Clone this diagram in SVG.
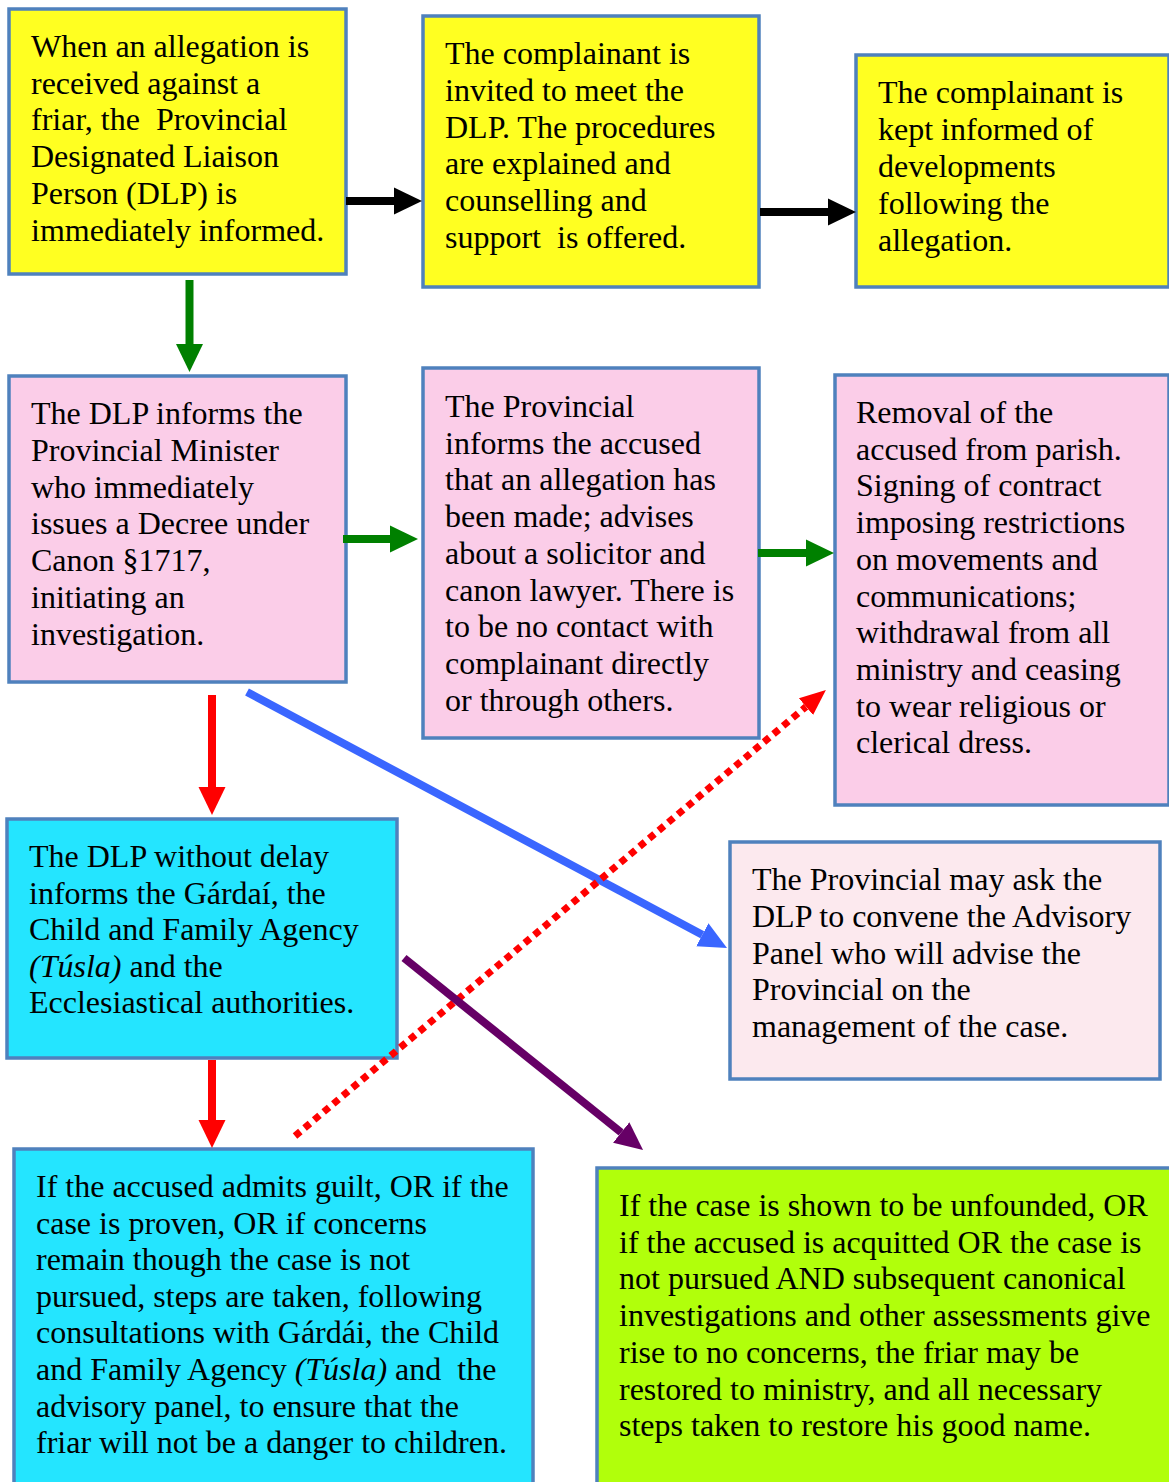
<svg xmlns="http://www.w3.org/2000/svg" width="1169" height="1482" viewBox="0 0 1169 1482">
<style>
.box{stroke:#4f81bd;stroke-width:3.5}
.y{fill:#ffff21}.p{fill:#fbcde8}.c{fill:#24e5ff}.lp{fill:#fce9ee}.g{fill:#b1ff0b}
text{font-family:"Liberation Serif","Times New Roman",serif;font-size:32px;fill:#000;white-space:pre}
.it{font-style:italic}
.sh{fill:none;stroke-width:8}
</style>
<defs>
<marker id="hk" markerUnits="userSpaceOnUse" markerWidth="28" markerHeight="28" viewBox="0 -14 28 28" refX="0" refY="0" orient="auto"><path d="M0,-13.5 L28,0 L0,13.5 z" fill="#000"/></marker>
<marker id="hg" markerUnits="userSpaceOnUse" markerWidth="28" markerHeight="28" viewBox="0 -14 28 28" refX="0" refY="0" orient="auto"><path d="M0,-13.5 L28,0 L0,13.5 z" fill="#008000"/></marker>
<marker id="hr" markerUnits="userSpaceOnUse" markerWidth="28" markerHeight="28" viewBox="0 -14 28 28" refX="0" refY="0" orient="auto"><path d="M0,-13.5 L28,0 L0,13.5 z" fill="#ff0000"/></marker>
<marker id="hb" markerUnits="userSpaceOnUse" markerWidth="28" markerHeight="28" viewBox="0 -14 28 28" refX="0" refY="0" orient="auto"><path d="M0,-13 L28,0 L0,13 z" fill="#3a66ff"/></marker>
<marker id="hp" markerUnits="userSpaceOnUse" markerWidth="28" markerHeight="28" viewBox="0 -14 28 28" refX="0" refY="0" orient="auto"><path d="M0,-13 L28,0 L0,13 z" fill="#660066"/></marker>
<marker id="hd" markerUnits="userSpaceOnUse" markerWidth="26" markerHeight="24" viewBox="0 -12 26 24" refX="0" refY="0" orient="auto"><path d="M0,-11 L26,0 L0,11 z" fill="#ff0000"/></marker>
</defs>

<g id="n1">
<rect class="box y" x="9" y="9" width="337" height="265"/>
<text x="31" y="57"><tspan x="31">When an allegation is</tspan><tspan x="31" dy="36.7">received against a</tspan><tspan x="31" dy="36.7">friar, the  Provincial</tspan><tspan x="31" dy="36.7">Designated Liaison</tspan><tspan x="31" dy="36.7">Person (DLP) is</tspan><tspan x="31" dy="36.7">immediately informed.</tspan></text>
</g>
<g id="n2">
<rect class="box y" x="423" y="16" width="336" height="271"/>
<text x="445" y="64"><tspan x="445">The complainant is</tspan><tspan x="445" dy="36.8">invited to meet the</tspan><tspan x="445" dy="36.8">DLP. The procedures</tspan><tspan x="445" dy="36.8">are explained and</tspan><tspan x="445" dy="36.8">counselling and</tspan><tspan x="445" dy="36.8">support  is offered.</tspan></text>
</g>
<g id="n3">
<rect class="box y" x="856" y="55" width="313" height="232"/>
<text x="878" y="103"><tspan x="878">The complainant is</tspan><tspan x="878" dy="37">kept informed of</tspan><tspan x="878" dy="37">developments</tspan><tspan x="878" dy="37">following the</tspan><tspan x="878" dy="37">allegation.</tspan></text>
</g>
<g id="n4">
<rect class="box p" x="9" y="376" width="337" height="306"/>
<text x="31" y="424"><tspan x="31">The DLP informs the</tspan><tspan x="31" dy="36.8">Provincial Minister</tspan><tspan x="31" dy="36.8">who immediately</tspan><tspan x="31" dy="36.8">issues a Decree under</tspan><tspan x="31" dy="36.8">Canon §1717,</tspan><tspan x="31" dy="36.8">initiating an</tspan><tspan x="31" dy="36.8">investigation.</tspan></text>
</g>
<g id="n5">
<rect class="box p" x="423" y="368" width="336" height="370"/>
<text x="445" y="417"><tspan x="445">The Provincial</tspan><tspan x="445" dy="36.7">informs the accused</tspan><tspan x="445" dy="36.7">that an allegation has</tspan><tspan x="445" dy="36.7">been made; advises</tspan><tspan x="445" dy="36.7">about a solicitor and</tspan><tspan x="445" dy="36.7">canon lawyer. There is</tspan><tspan x="445" dy="36.7">to be no contact with</tspan><tspan x="445" dy="36.7">complainant directly</tspan><tspan x="445" dy="36.7">or through others.</tspan></text>
</g>
<g id="n6">
<rect class="box p" x="835" y="375" width="334" height="430"/>
<text x="856" y="423"><tspan x="856">Removal of the</tspan><tspan x="856" dy="36.7">accused from parish.</tspan><tspan x="856" dy="36.7">Signing of contract</tspan><tspan x="856" dy="36.7">imposing restrictions</tspan><tspan x="856" dy="36.7">on movements and</tspan><tspan x="856" dy="36.7">communications;</tspan><tspan x="856" dy="36.7">withdrawal from all</tspan><tspan x="856" dy="36.7">ministry and ceasing</tspan><tspan x="856" dy="36.7">to wear religious or</tspan><tspan x="856" dy="36.7">clerical dress.</tspan></text>
</g>
<g id="n7">
<rect class="box c" x="7" y="819" width="390" height="239"/>
<text x="29" y="867"><tspan x="29">The DLP without delay</tspan><tspan x="29" dy="36.6">informs the Gárdaí, the</tspan><tspan x="29" dy="36.6">Child and Family Agency</tspan><tspan x="29" dy="36.6" class="it">(Túsla)</tspan><tspan> and the</tspan><tspan x="29" dy="36.6">Ecclesiastical authorities.</tspan></text>
</g>
<g id="n8">
<rect class="box lp" x="730" y="842" width="430" height="237"/>
<text x="752" y="890"><tspan x="752">The Provincial may ask the</tspan><tspan x="752" dy="36.75">DLP to convene the Advisory</tspan><tspan x="752" dy="36.75">Panel who will advise the</tspan><tspan x="752" dy="36.75">Provincial on the</tspan><tspan x="752" dy="36.75">management of the case.</tspan></text>
</g>
<g id="n9">
<rect class="box c" x="14" y="1149" width="519" height="340"/>
<text x="36" y="1197"><tspan x="36">If the accused admits guilt, OR if the</tspan><tspan x="36" dy="36.6">case is proven, OR if concerns</tspan><tspan x="36" dy="36.6">remain though the case is not</tspan><tspan x="36" dy="36.6">pursued, steps are taken, following</tspan><tspan x="36" dy="36.6">consultations with Gárdái, the Child</tspan><tspan x="36" dy="36.6">and Family Agency </tspan><tspan class="it">(Túsla)</tspan><tspan> and  the</tspan><tspan x="36" dy="36.6">advisory panel, to ensure that the</tspan><tspan x="36" dy="36.6">friar will not be a danger to children.</tspan></text>
</g>
<g id="n10">
<rect class="box g" x="597" y="1168" width="580" height="330"/>
<text x="619" y="1216"><tspan x="619">If the case is shown to be unfounded, OR</tspan><tspan x="619" dy="36.7">if the accused is acquitted OR the case is</tspan><tspan x="619" dy="36.7">not pursued AND subsequent canonical</tspan><tspan x="619" dy="36.7">investigations and other assessments give</tspan><tspan x="619" dy="36.7">rise to no concerns, the friar may be</tspan><tspan x="619" dy="36.7">restored to ministry, and all necessary</tspan><tspan x="619" dy="36.7">steps taken to restore his good name.</tspan></text>
</g>

<g id="connectors">
<line class="sh" stroke="#000" x1="346" y1="201" x2="394" y2="201" marker-end="url(#hk)"/>
<line class="sh" stroke="#000" x1="760" y1="212" x2="828" y2="212" marker-end="url(#hk)"/>
<line class="sh" stroke="#008000" x1="189.5" y1="280" x2="189.5" y2="344" marker-end="url(#hg)"/>
<line class="sh" stroke="#008000" x1="343" y1="539" x2="390" y2="539" marker-end="url(#hg)"/>
<line class="sh" stroke="#008000" x1="758" y1="553" x2="806" y2="553" marker-end="url(#hg)"/>
<line class="sh" stroke="#ff0000" x1="212" y1="695" x2="212" y2="787" marker-end="url(#hr)"/>
<line class="sh" stroke="#ff0000" x1="212" y1="1060" x2="212" y2="1120" marker-end="url(#hr)"/>
<line class="sh" stroke="#3a66ff" x1="247" y1="692" x2="702.3" y2="934.8" marker-end="url(#hb)"/>
<line fill="none" stroke="#ff0000" stroke-width="7" stroke-dasharray="7 5.5" x1="295" y1="1136" x2="806" y2="706.7" marker-end="url(#hd)"/>
<line class="sh" stroke="#660066" x1="404" y1="958" x2="621.2" y2="1132.5" marker-end="url(#hp)"/>
</g>
</svg>
